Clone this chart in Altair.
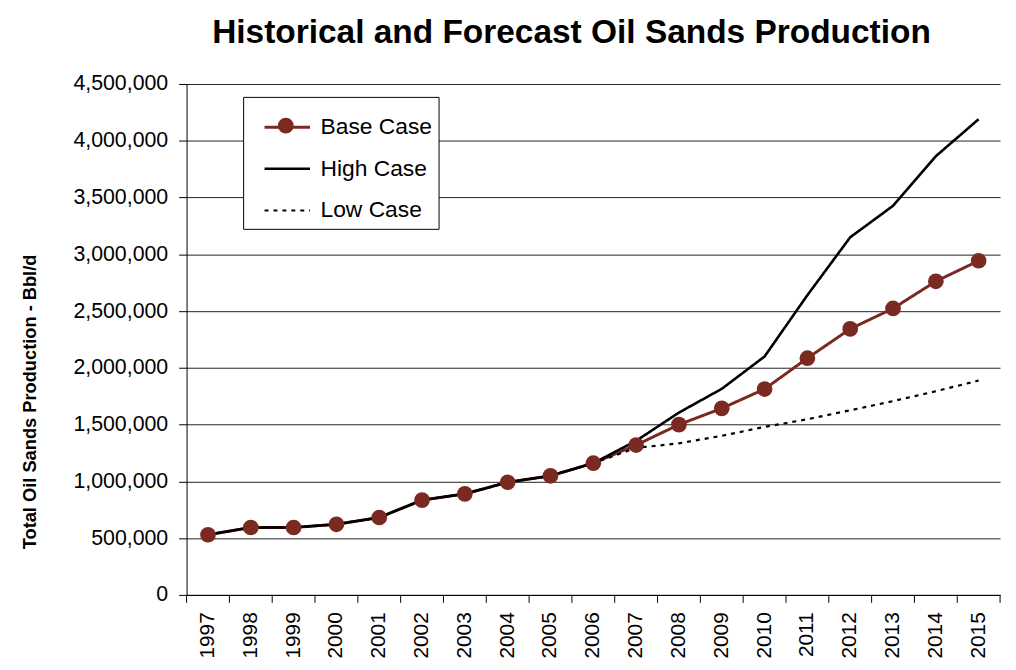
import altair as alt
import pandas as pd

years = [str(y) for y in range(1997, 2016)]
base = [530000, 594000, 594000, 622000, 682000, 835000, 890000, 992000, 1049000, 1160000,
        1320000, 1500000, 1643000, 1813000, 2085000, 2343000, 2523000, 2762000, 2943000]
high = [530000, 594000, 594000, 622000, 682000, 835000, 890000, 992000, 1049000, 1160000,
        1357000, 1606000, 1815000, 2100000, 2640000, 3150000, 3427000, 3864000, 4190000]
low = [530000, 594000, 594000, 622000, 682000, 835000, 890000, 992000, 1049000, 1160000,
       1295000, 1335000, 1401000, 1480000, 1547000, 1626000, 1707000, 1794000, 1888000]
series = ["Base Case", "High Case", "Low Case"]

rows = []
for name, vals in zip(series, [base, high, low]):
    for y, v in zip(years, vals):
        rows.append({"year": y, "value": v, "series": name})
df = pd.DataFrame(rows)
df_base = df[df.series == "Base Case"].rename(columns={"series": "marker"})
df_ticks = pd.DataFrame({"year": years})

BROWN = "#7B2A22"
FONT = "Liberation Sans"
W, H = 820, 515

xscale = alt.Scale(type="band", domain=years, paddingInner=0, paddingOuter=0)
yscale = alt.Scale(domain=[0, 4500000])

x_enc = alt.X("year:N", scale=xscale, bandPosition=0.5,
              axis=alt.Axis(title=None, labelAngle=-90, labelFontSize=21, labelFont=FONT,
                            labelColor="black", ticks=False, domainColor="black",
                            labelPadding=17, labelBaseline="middle", labelAlign="right"))
y_enc = alt.Y("value:Q", scale=yscale,
              axis=alt.Axis(title="Total Oil Sands Production - Bbl/d", titleFontSize=18.4,
                            titleFont=FONT, titleFontWeight="bold", titleColor="black",
                            titleAngle=-90, titleAlign="center", titleBaseline="middle",
                            titleX=-158, titleY=320,
                            values=list(range(0, 4500001, 500000)),
                            format=",d", labelFontSize=21.5, labelFont=FONT, labelColor="black",
                            tickColor="black", tickSize=8, domainColor="black",
                            gridColor="#222222", gridWidth=1, labelPadding=11))

legend = alt.Legend(title=None, orient="none", legendX=57, legendY=13,
                    labelFontSize=23, labelFont=FONT, labelColor="black",
                    strokeColor="black", fillColor="white", padding=6,
                    rowPadding=5, symbolSize=2100, symbolStrokeWidth=3,
                    symbolType="stroke", labelOffset=9, symbolOffset=14, zindex=1)

lines = alt.Chart(df).mark_line(clip=False).encode(
    x=x_enc,
    y=y_enc,
    color=alt.Color("series:N", scale=alt.Scale(domain=series, range=[BROWN, "black", "black"]),
                    legend=legend),
    strokeDash=alt.StrokeDash("series:N", scale=alt.Scale(domain=series, range=[[1, 0], [1, 0], [4, 5]]),
                              legend=legend),
    strokeWidth=alt.StrokeWidth("series:N", scale=alt.Scale(domain=series, range=[3, 2.2, 3]), legend=None),
    order=alt.Order("order:Q"),
).transform_calculate(order="datum.series == 'Base Case' ? 3 : datum.series == 'High Case' ? 2 : 1")

marker_legend = alt.Legend(title=None, orient="none", legendX=92, legendY=34, padding=0,
                           labelOpacity=0, labelFontSize=1, symbolSize=250,
                           symbolFillColor=BROWN, symbolStrokeColor=BROWN, symbolStrokeWidth=0,
                           symbolType="circle", symbolOpacity=1, zindex=2)

points = alt.Chart(df_base).mark_point(size=250, opacity=1, filled=True, color=BROWN,
                                       strokeWidth=0).encode(
    x=alt.X("year:N", scale=xscale, bandPosition=0.5),
    y=alt.Y("value:Q", scale=yscale),
    shape=alt.Shape("marker:N", scale=alt.Scale(domain=["Base Case"], range=["circle"]),
                    legend=marker_legend),
)

ticks = alt.Chart(df_ticks).mark_rule(color="black", strokeWidth=1).encode(
    x=alt.X("year:N", scale=xscale, bandPosition=0),
    y=alt.value(H), y2=alt.value(H + 8),
)
end_tick = alt.Chart(pd.DataFrame({"year": [years[-1]]})).mark_rule(color="black", strokeWidth=1).encode(
    x=alt.X("year:N", scale=xscale, bandPosition=1),
    y=alt.value(H), y2=alt.value(H + 8),
)

chart = alt.layer(lines, points, ticks, end_tick).properties(
    width=W, height=H,
    title=alt.TitleParams("Historical and Forecast Oil Sands Production", fontSize=33.7, font=FONT,
                          fontWeight="bold", color="black", anchor="middle", offset=24, dx=-22),
    padding={"left": 180, "top": 74, "right": 8, "bottom": 62},
    autosize=alt.AutoSizeParams(type="none"),
).configure_view(stroke=None).configure_axis(grid=True).configure_axisX(grid=False)

chart.save("out.html", embed_options={"renderer": "svg", "actions": False})
